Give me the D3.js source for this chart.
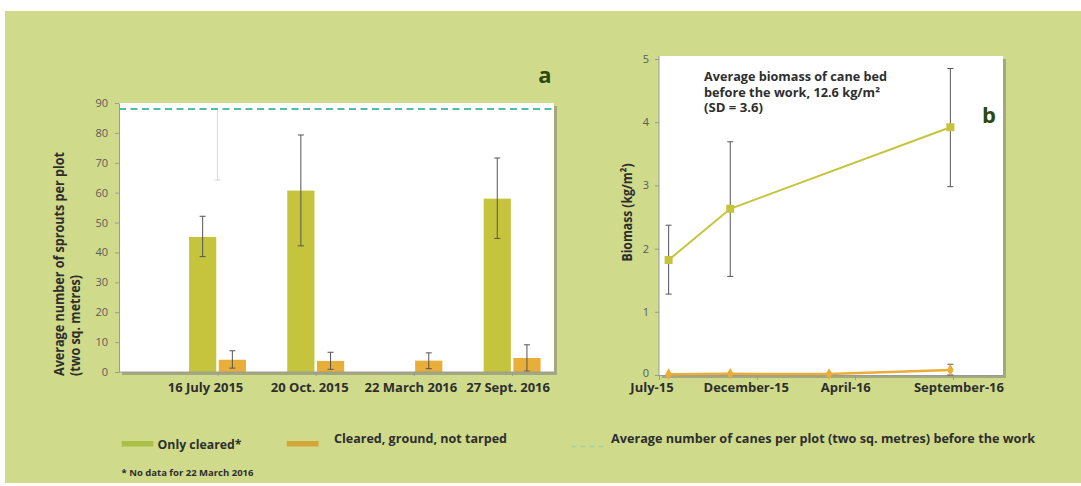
<!DOCTYPE html>
<html><head><meta charset="utf-8">
<script src="https://cdn.jsdelivr.net/npm/d3@7"></script>
<style>
body{margin:0;background:#fff}
svg{display:block}
text{font-family:"Open Sans","Noto Sans",sans-serif}
</style>
</head><body>
<svg id="c" width="1081" height="486"></svg>
<script>
// ---------- DATA: panel a ----------
const categoriesA = ["16 July 2015", "20 Oct. 2015", "22 March 2016", "27 Sept. 2016"];
const onlyCleared      = [45.2, 60.7, null, 58.0];
const onlyClearedLow   = [38.6, 42.2, null, 44.7];
const onlyClearedHigh  = [52.1, 79.3, null, 71.6];
const clearedGround     = [4.1, 3.7, 3.8, 4.7];
const clearedGroundLow  = [1.3, 0.9, 1.1, 0.3];
const clearedGroundHigh = [7.1, 6.6, 6.4, 9.1];
const canesBefore = 88;
const faintErrorLow = 64.2;          // faint grey whisker in the July 2015 group
const yTicksA = [0, 10, 20, 30, 40, 50, 60, 70, 80, 90];

// ---------- DATA: panel b ----------
const datesB = ["2015-07-16", "2015-10-20", "2016-03-22", "2016-09-27"];
const biomassOnlyCleared     = [1.82, 2.63, null, 3.92];
const biomassOnlyClearedLow  = [1.28, 1.56, null, 2.98];
const biomassOnlyClearedHigh = [2.37, 3.69, null, 4.85];
const biomassCleared     = [0.012, 0.018, 0.014, 0.08];
const biomassClearedLow  = [null, null, null, 0.0];
const biomassClearedHigh = [null, null, null, 0.17];
const xTickDatesB  = ["2015-07-01", "2015-12-01", "2016-05-01", "2016-10-01"];
const xTickLabelsB = ["July-15", "December-15", "April-16", "September-16"];
const yTicksB = [0, 1, 2, 3, 4, 5];
const annotationB = ["Average biomass of cane bed", "before the work, 12.6 kg/m\u00B2", "(SD = 3.6)"];

// ---------- STYLE ----------
const BG = "#cfdb8b", GREEN = "#c6c43d", ORANGE = "#e9ae38", TEAL = "#55bba6";
const DARK = "#2e2e2e", TICK = "#5a5a5a", AX = "#9a9a9a", SHADOW = "#a3a97c", LETTER = "#2c4a10";

const svg = d3.select("#c");
svg.append("rect").attr("x", 5).attr("y", 11).attr("width", 1076).attr("height", 472).attr("fill", BG);

const parse = d3.timeParse("%Y-%m-%d");

// ================= PANEL A =================
const A = {l: 119, r: 554, t: 103, b: 372};
const xA = d3.scalePoint().domain(categoriesA).range([217.5, 512.1]);
const yA = d3.scaleLinear().domain([0, 90]).range([A.b, A.t]);
const barW = 27.2, gap = 1.25;

const gA = svg.append("g");
gA.append("rect").attr("x", A.l + 3).attr("y", A.t + 3).attr("width", A.r - A.l).attr("height", A.b - A.t).attr("fill", SHADOW);
gA.append("rect").attr("x", A.l).attr("y", A.t).attr("width", A.r - A.l).attr("height", A.b - A.t).attr("fill", "#fff");

// faint grey whisker
gA.append("line").attr("x1", xA(categoriesA[0])).attr("x2", xA(categoriesA[0]))
  .attr("y1", yA(canesBefore)).attr("y2", yA(faintErrorLow)).attr("stroke", "#dcdcdc").attr("stroke-width", 1.2);
gA.append("line").attr("x1", xA(categoriesA[0]) - 3).attr("x2", xA(categoriesA[0]) + 3)
  .attr("y1", yA(faintErrorLow)).attr("y2", yA(faintErrorLow)).attr("stroke", "#dcdcdc").attr("stroke-width", 1.2);

const idx = d3.range(categoriesA.length);
// bars
gA.selectAll(".g").data(idx.filter(i => onlyCleared[i] != null)).join("rect")
  .attr("x", i => xA(categoriesA[i]) - gap - barW).attr("width", barW)
  .attr("y", i => yA(onlyCleared[i])).attr("height", i => yA(0) - yA(onlyCleared[i])).attr("fill", GREEN);
gA.selectAll(".o").data(idx).join("rect")
  .attr("x", i => xA(categoriesA[i]) + gap).attr("width", barW)
  .attr("y", i => yA(clearedGround[i])).attr("height", i => yA(0) - yA(clearedGround[i])).attr("fill", ORANGE);

function errBar(g, x, y1, y2, cap) {
  g.append("line").attr("x1", x).attr("x2", x).attr("y1", y1).attr("y2", y2).attr("stroke", "#555").attr("stroke-width", 1);
  [y1, y2].forEach(y => g.append("line").attr("x1", x - cap).attr("x2", x + cap).attr("y1", y).attr("y2", y).attr("stroke", "#555").attr("stroke-width", 1));
}
idx.forEach(i => {
  if (onlyCleared[i] != null) errBar(gA, xA(categoriesA[i]) - gap - barW / 2, yA(onlyClearedHigh[i]), yA(onlyClearedLow[i]), 3);
  errBar(gA, xA(categoriesA[i]) + gap + barW / 2, yA(clearedGroundHigh[i]), yA(clearedGroundLow[i]), 3);
});

// dashed reference
gA.append("line").attr("x1", A.l).attr("x2", A.r).attr("y1", yA(canesBefore)).attr("y2", yA(canesBefore))
  .attr("stroke", TEAL).attr("stroke-width", 2).attr("stroke-dasharray", "7,4.5");

// axes
const axA = gA.append("g").attr("transform", `translate(${A.l},0)`)
  .call(d3.axisLeft(yA).tickValues(yTicksA).tickSize(4).tickPadding(7).tickSizeOuter(0));
axA.select(".domain").attr("stroke", AX);
axA.selectAll(".tick line").attr("stroke", AX);
axA.selectAll(".tick text").attr("fill", TICK).attr("font-size", 11).style("font-family", "'Open Sans',sans-serif");

const axAx = gA.append("g").attr("transform", `translate(0,${A.b})`)
  .call(d3.axisBottom(xA).tickSize(4).tickSizeOuter(0).tickFormat(""));
axAx.select(".domain").attr("stroke", AX).attr("d", `M${A.l},0H${A.r}`);
axAx.selectAll(".tick line").attr("stroke", AX);

const labelDxA = [-12, -6, -3, -4];
gA.selectAll(".xl").data(categoriesA).join("text")
  .attr("x", (d, i) => xA(d) + labelDxA[i]).attr("y", 392).attr("text-anchor", "middle")
  .attr("font-size", 13).attr("font-weight", 700).attr("fill", DARK).text(d => d);

// y title
const ytA = gA.append("text").attr("font-size", 13.5).attr("font-weight", 700).attr("fill", DARK);
ytA.append("tspan").attr("x", 0).attr("y", 0).attr("textLength", 224).attr("lengthAdjust", "spacingAndGlyphs").text("Average number of sprouts per plot");
ytA.append("tspan").attr("x", 0).attr("y", 16).attr("textLength", 101).attr("lengthAdjust", "spacingAndGlyphs").text("(two sq. metres)");
ytA.attr("transform", "translate(64,376) rotate(-90)");

gA.append("text").attr("x", 545).attr("y", 83).attr("text-anchor", "middle").attr("font-size", 22)
  .attr("font-weight", 700).attr("fill", LETTER).text("a");

// ================= PANEL B =================
const B = {l: 659, r: 1003, t: 59, b: 375};
const xB = d3.scaleTime().domain([parse("2015-07-01"), parse("2016-12-18")]).range([B.l, B.r]);
const yB = d3.scaleLinear().domain([0, 5]).range([B.b, B.t]);
const gB = svg.append("g");
gB.append("rect").attr("x", B.l + 3).attr("y", B.t - 3 + 3).attr("width", B.r - B.l).attr("height", B.b - B.t + 3).attr("fill", SHADOW);
gB.append("rect").attr("x", B.l).attr("y", B.t - 3).attr("width", B.r - B.l).attr("height", B.b - B.t + 3).attr("fill", "#fff");

const axB = gB.append("g").attr("transform", `translate(${B.l},0)`)
  .call(d3.axisLeft(yB).tickValues(yTicksB).tickFormat(d3.format("d")).tickSize(4).tickPadding(6).tickSizeOuter(0));
axB.select(".domain").attr("stroke", AX).attr("d", `M0,${B.t - 3}V${B.b}`);
axB.selectAll(".tick line").attr("stroke", AX);
axB.selectAll(".tick text").attr("fill", TICK).attr("font-size", 11).style("font-family", "'Open Sans',sans-serif");
axB.selectAll(".tick text").filter(d => d === 0).attr("dy", "0.1em");

const tickDates = xTickDatesB.map(parse);
const axBx = gB.append("g").attr("transform", `translate(0,${B.b})`)
  .call(d3.axisBottom(xB).tickValues(tickDates).tickSize(5).tickSizeOuter(0).tickFormat(""));
axBx.select(".domain").attr("stroke", AX);
axBx.selectAll(".tick line").attr("stroke", AX);

const labelDxB = [-7, -11, -9, 6];
gB.selectAll(".xl").data(xTickLabelsB).join("text")
  .attr("x", (d, i) => xB(tickDates[i]) + labelDxB[i]).attr("y", 392).attr("text-anchor", "middle")
  .attr("font-size", 13).attr("font-weight", 700).attr("fill", DARK).text(d => d);

const ptsG = datesB.map((d, i) => ({d: parse(d), v: biomassOnlyCleared[i], lo: biomassOnlyClearedLow[i], hi: biomassOnlyClearedHigh[i]})).filter(p => p.v != null);
const ptsO = datesB.map((d, i) => ({d: parse(d), v: biomassCleared[i], lo: biomassClearedLow[i], hi: biomassClearedHigh[i]}));

ptsG.forEach(p => errBar(gB, xB(p.d), yB(p.hi), yB(p.lo), 3));
ptsO.filter(p => p.hi != null).forEach(p => errBar(gB, xB(p.d), yB(p.hi), yB(p.lo), 3));

const line = d3.line().x(p => xB(p.d)).y(p => yB(p.v));
gB.append("path").datum(ptsO).attr("d", line).attr("fill", "none").attr("stroke", ORANGE).attr("stroke-width", 2.5);
gB.selectAll(".dm").data(ptsO).join("path")
  .attr("d", d3.symbol(d3.symbolDiamond, 40)).attr("transform", p => `translate(${xB(p.d)},${yB(p.v)})`).attr("fill", ORANGE);
gB.append("path").datum(ptsG).attr("d", line).attr("fill", "none").attr("stroke", GREEN).attr("stroke-width", 2);
gB.selectAll(".sq").data(ptsG).join("rect")
  .attr("x", p => xB(p.d) - 4).attr("y", p => yB(p.v) - 4).attr("width", 8).attr("height", 8).attr("fill", GREEN);

const annW = [183, 176, 59];
gB.selectAll(".ann").data(annotationB).join("text")
  .attr("x", 704).attr("y", (d, i) => 80.7 + i * 15.8).attr("font-size", 12.5).attr("font-weight", 700).attr("fill", DARK)
  .attr("textLength", (d, i) => annW[i]).attr("lengthAdjust", "spacingAndGlyphs").text(d => d);

gB.append("text").attr("transform", "translate(632,212.5) rotate(-90)").attr("text-anchor", "middle")
  .attr("font-size", 13.5).attr("font-weight", 700).attr("fill", DARK)
  .attr("textLength", 98).attr("lengthAdjust", "spacingAndGlyphs").text("Biomass (kg/m\u00B2)");

gB.append("text").attr("x", 989).attr("y", 123.3).attr("text-anchor", "middle").attr("font-size", 22)
  .attr("font-weight", 700).attr("fill", LETTER).text("b");

// ================= LEGEND =================
const lg = svg.append("g");
lg.append("rect").attr("x", 121.7).attr("y", 441).attr("width", 31.6).attr("height", 5.5).attr("fill", "#a9bf45");
lg.append("text").attr("x", 157.5).attr("y", 449).attr("font-size", 13).attr("font-weight", 700).attr("fill", DARK)
  .attr("textLength", 84).attr("lengthAdjust", "spacingAndGlyphs").text("Only cleared*");
lg.append("rect").attr("x", 286.8).attr("y", 441).attr("width", 31.8).attr("height", 5.5).attr("fill", "#d4a63a");
lg.append("text").attr("x", 334).attr("y", 442.5).attr("font-size", 13).attr("font-weight", 700).attr("fill", DARK)
  .attr("textLength", 173).attr("lengthAdjust", "spacingAndGlyphs").text("Cleared, ground, not tarped");
lg.append("line").attr("x1", 571.5).attr("x2", 605).attr("y1", 446.5).attr("y2", 446.5)
  .attr("stroke", "#a3d29d").attr("stroke-width", 1.5).attr("stroke-dasharray", "5,4");
lg.append("text").attr("x", 611).attr("y", 442.5).attr("font-size", 13).attr("font-weight", 700).attr("fill", DARK)
  .attr("textLength", 424).attr("lengthAdjust", "spacingAndGlyphs").text("Average number of canes per plot (two sq. metres) before the work");
lg.append("text").attr("x", 121.5).attr("y", 476).attr("font-size", 9.5).attr("font-weight", 700).attr("fill", DARK)
  .attr("textLength", 132).attr("lengthAdjust", "spacingAndGlyphs").text("* No data for 22 March 2016");
</script>
</body></html>
